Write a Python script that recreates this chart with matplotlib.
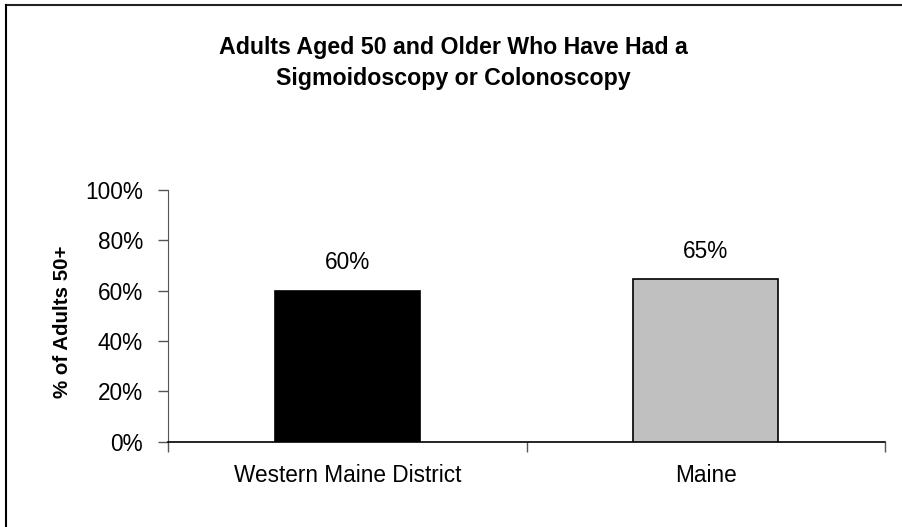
import matplotlib
matplotlib.use("Agg")
import matplotlib.pyplot as plt
from matplotlib.lines import Line2D

categories = ["Western Maine District", "Maine"]
values = [0.60, 0.645]
value_labels = ["60%", "65%"]
bar_colors = ["#000000", "#C0C0C0"]
yticks = [0.0, 0.2, 0.4, 0.6, 0.8, 1.0]
ytick_labels = ["0%", "20%", "40%", "60%", "80%", "100%"]
title = "Adults Aged 50 and Older Who Have Had a\nSigmoidoscopy or Colonoscopy"
ylabel = "% of Adults 50+"

plt.rcParams['font.family'] = ['Liberation Sans', 'DejaVu Sans']

fig = plt.figure(figsize=(9.02, 5.27), dpi=100)
ax = fig.add_axes([0.1863, 0.1622, 0.9812 - 0.1863, 0.6395 - 0.1622])

x = list(range(len(categories)))
bars = ax.bar(x, values, width=0.405, color=bar_colors, edgecolor="black", linewidth=1.2, zorder=3)
for xi, v, lab in zip(x, values, value_labels):
    ax.annotate(lab, (xi, v), xytext=(0, 12), textcoords="offset points",
                ha="center", va="bottom", fontsize=16.3)

ax.set_xlim(-0.5, len(categories) - 0.5)
ax.set_ylim(0, 1.0)
ax.set_yticks(yticks)
ax.set_yticklabels(ytick_labels, fontsize=16.3)
ax.set_xticks([i - 0.5 for i in range(len(categories) + 1)])
ax.set_xticklabels([])
ax.set_xticks(x, minor=True)
ax.set_xticklabels(categories, minor=True, fontsize=16.3)
ax.tick_params(axis="x", which="minor", length=0, pad=16)
ax.tick_params(axis="x", which="major", length=7, width=1, color="#555555", direction="out")
ax.tick_params(axis="y", length=7, width=1, color="#555555", direction="out", pad=11)

for s in ["top", "right"]:
    ax.spines[s].set_visible(False)
ax.spines["left"].set_color("#555555")
ax.spines["bottom"].set_color("black")
ax.spines["bottom"].set_linewidth(1.2)

ax.set_ylabel(ylabel, fontsize=14.8, fontweight="bold")
ax.yaxis.set_label_coords(-0.134, 0.475)

fig.text(0.503, 0.880, title, ha="center", va="center", fontsize=16.7,
         fontweight="bold", linespacing=1.42)

# figure frame (top and left edges)
fig.add_artist(Line2D([0.0072, 1.0], [0.9905, 0.9905], transform=fig.transFigure, color="#222222", linewidth=1.5))
fig.add_artist(Line2D([0.0072, 0.0072], [0.0, 0.9905], transform=fig.transFigure, color="black", linewidth=1.5))

fig.savefig("out.png", dpi=100)
